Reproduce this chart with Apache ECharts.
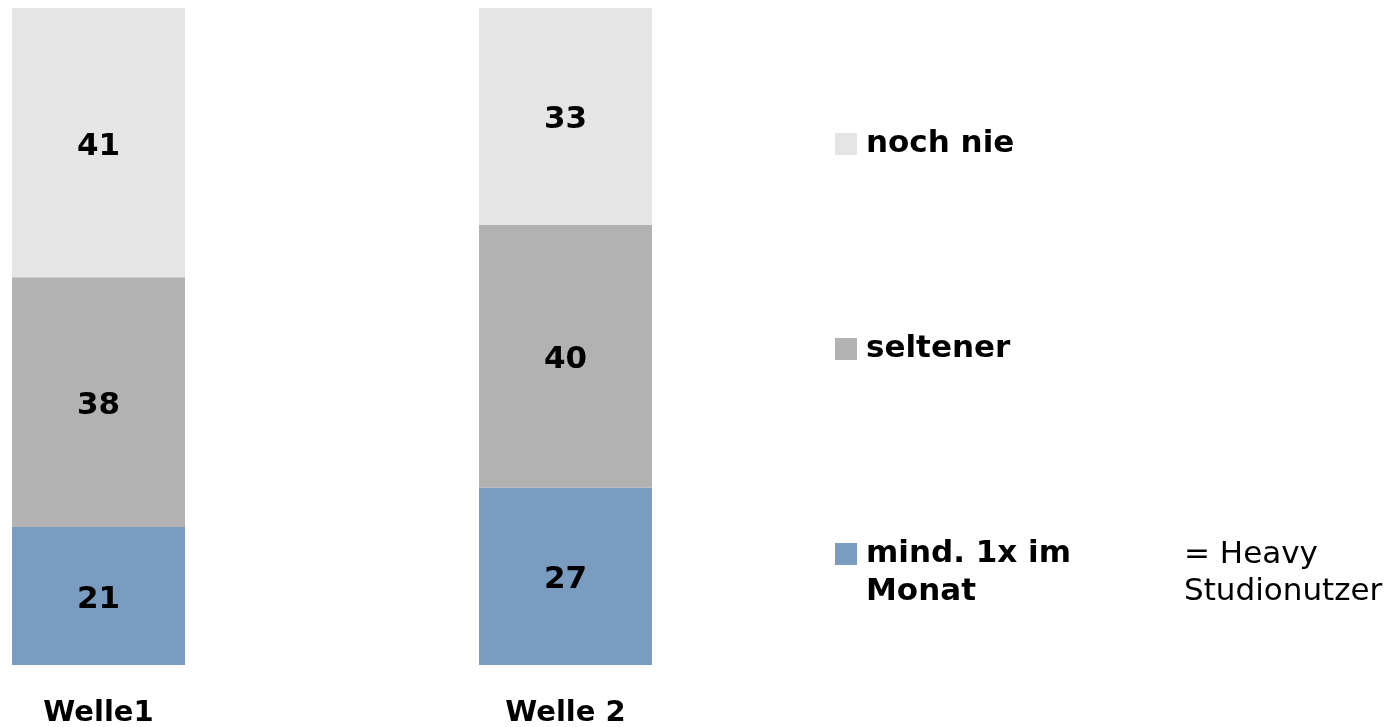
<!DOCTYPE html>
<html>
<head>
<meta charset="utf-8">
<script src="https://cdn.jsdelivr.net/npm/echarts@6/dist/echarts.min.js"></script>
<style>
  html, body { margin: 0; padding: 0; background: #fff; }
  #main { width: 1397px; height: 727px; }
</style>
</head>
<body>
<div id="main"></div>
<script>
// Kategorien und Werte (Prozent)
var wellen = ['Welle1', 'Welle 2'];
var mindMonat = [21, 27];
var seltener = [38, 40];
var nochNie = [41, 33];
var serienNamen = ['mind. 1x im\nMonat', 'seltener', 'noch nie'];
var farben = ['#7a9cc0', '#b2b2b2', '#e5e5e5'];

var schrift = '"DejaVu Sans", Verdana, sans-serif';
var myChart = echarts.init(document.getElementById('main'));

function balken(name, daten, farbe) {
    return {
        name: name,
        type: 'bar',
        stack: 'gesamt',
        barWidth: 173,
        clip: false,
        data: daten,
        itemStyle: { color: farbe },
        label: {
            show: true,
            position: 'inside',
            offset: [0, 4],
            color: '#000',
            fontFamily: schrift,
            fontWeight: 'bold',
            fontSize: 31
        }
    };
}

function legende(name, top, fmt) {
    var l = {
        orient: 'vertical',
        left: 830,
        top: top,
        itemWidth: 22,
        itemHeight: 22,
        icon: 'rect',
        selectedMode: false,
        textStyle: {
            color: '#000',
            fontFamily: schrift,
            fontWeight: 'bold',
            fontSize: 31,
            lineHeight: 38,
            padding: [0, 0, 0, 4]
        },
        data: [name]
    };
    if (fmt) l.formatter = fmt;
    return l;
}

var option = {
    animation: false,
    backgroundColor: '#fff',
    grid: { left: 98.5, right: 831.5, top: 8, bottom: 62, outerBoundsMode: 'none' },
    xAxis: {
        type: 'category',
        data: wellen,
        boundaryGap: false,
        axisLine: { show: false },
        axisTick: { show: false },
        axisLabel: {
            margin: 34,
            color: '#000',
            fontFamily: schrift,
            fontWeight: 'bold',
            fontSize: 29
        }
    },
    yAxis: { type: 'value', min: 0, max: 100, show: false },
    legend: [
        legende(serienNamen[2], 120),
        legende(serienNamen[1], 325),
        // leere erste Zeile, damit das Kästchen auf Höhe der ersten Textzeile sitzt
        legende(serienNamen[0], 492, function (n) { return ' \n' + n; })
    ],
    graphic: [{
        type: 'text',
        left: 1184,
        top: 536,
        style: {
            text: '= Heavy\nStudionutzer',
            fill: '#000',
            font: '31px ' + schrift,
            lineHeight: 37
        }
    }],
    series: [
        balken(serienNamen[0], mindMonat, farben[0]),
        balken(serienNamen[1], seltener, farben[1]),
        balken(serienNamen[2], nochNie, farben[2])
    ]
};
myChart.setOption(option);
</script>
</body>
</html>
